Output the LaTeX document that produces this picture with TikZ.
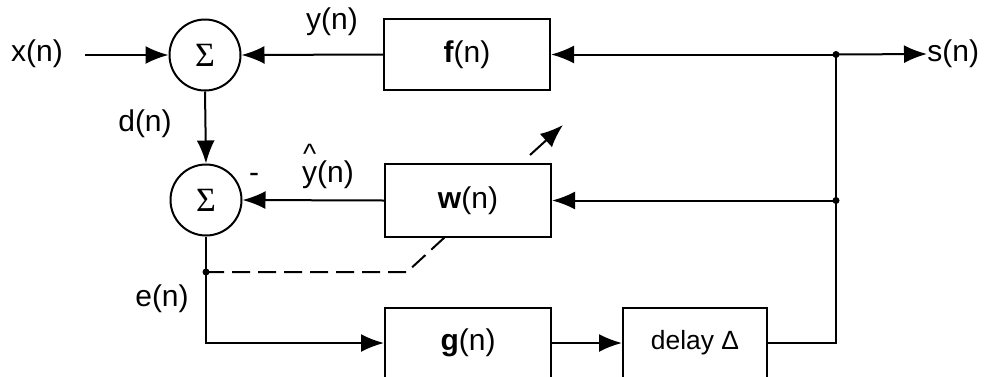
\documentclass[tikz,border=0pt]{standalone}
\usepackage{fontspec}
\setmainfont{Liberation Sans}
\newfontfamily\serifsym{Liberation Serif}
\usetikzlibrary{arrows.meta}
\newcommand{\hatted}[1]{\makebox[0pt][l]{\makebox[0.5em][c]{\raisebox{0.62em}{\fontsize{14}{14}\selectfont\^{}}}}#1}
\begin{document}
\begin{tikzpicture}[x=0.5pt,y=-0.5pt,
  every node/.style={font=\fontsize{15}{18}\selectfont, inner sep=0pt},
  wire/.style={line width=1pt},
  arr/.style={wire, -{Latex[length=11.5pt,width=9pt]}},
  blockbox/.style={draw, line width=1pt, minimum width=83pt, minimum height=36pt},
  summer/.style={draw, circle, line width=1pt, minimum size=35.5pt,
    font=\serifsym\fontsize{17}{19}\selectfont},
  lbl/.style={},
  junction/.style={circle, fill, inner sep=0pt, minimum size=3.5pt}]
\useasboundingbox (0,0) rectangle (985,376);

% summing junctions
\node[summer] (s1) at (205,55) {Σ};
\node[summer] (s2) at (206,200) {Σ};

% filter blocks
\node[blockbox, minimum height=35.5pt] (f) at (467,54.5) {\textbf{f}(n)};
\node[blockbox, minimum height=36.5pt] (w) at (468,200.5) {\textbf{w}(n)};
\node[blockbox, minimum height=35pt] (g) at (468,343) {\textbf{g}(n)};
\node[blockbox, minimum width=72pt, minimum height=35pt,
      font=\fontsize{13.2}{16}\selectfont] (dl) at (695,343) {delay Δ};

% signal labels
\node[lbl] (xl) at (37,54) {x(n)};
\node[lbl, anchor=west] (sl) at (927,54) {s(n)};
\node[lbl] (yl) at (332,22) {y(n)};
\node[lbl, anchor=base] (yh) at (328,182) {\hatted{y}(n)};
\node[lbl] (dn) at (145,124) {d(n)};
\node[lbl] (en) at (162,299) {e(n)};
\node[lbl] (minus) at (254,178) {-};

% branch points
\coordinate (xs) at (85,55);
\coordinate (j1) at (836,54.5);
\coordinate (j2) at (836,200.5);
\coordinate (ep) at (206,272);
\coordinate (dk) at (407,272);
\coordinate (dw) at (445,237);
\coordinate (ua) at (530,155);
\coordinate (ub) at (563,125);

% forward and feedback paths
\draw[arr] (xs) -- (s1.west);
\draw[arr] (f.west) -- (s1.east);
\draw[arr] (s1.south) -- (s2.north);
\draw[arr] (w.west) -- (s2.east);
\draw[arr] (j1) -- (f.east);
\draw[arr] (j1) -- (sl.west);
\draw[arr] (j2) -- (w.east);
\draw[wire] (s2.south) -- (ep);
\draw[arr] (ep) |- (g.west);
\draw[arr] (g.east) -- (dl.west);
\draw[wire] (dl.east) -| (j1);

% adaptation of w(n)
\draw[wire, dashed, dash pattern=on 9pt off 4pt] (ep) -- (dk) -- (dw);
\draw[arr] (ua) -- (ub);

\node[junction] at (j1) {};
\node[junction] at (j2) {};
\node[junction] at (ep) {};
\end{tikzpicture}
\end{document}
